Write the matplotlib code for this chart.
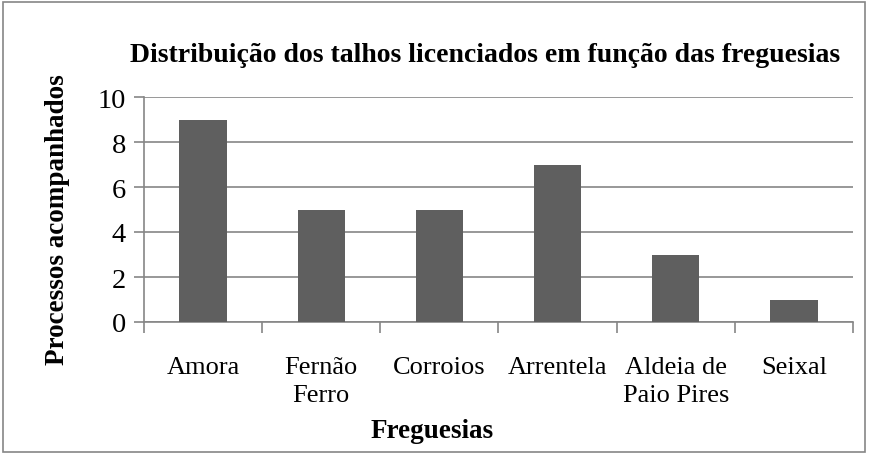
import matplotlib
matplotlib.use("Agg")
import matplotlib.pyplot as plt
from matplotlib.patches import Rectangle

categories = ["Amora", "Fernão\nFerro", "Corroios", "Arrentela", "Aldeia de\nPaio Pires", "Seixal"]
values = [9, 5, 5, 7, 3, 1]
yticks = [0, 2, 4, 6, 8, 10]

plt.rcParams['font.family'] = ['Liberation Serif', 'DejaVu Serif']

fig = plt.figure(figsize=(8.69, 4.56), dpi=100)
ax = fig.add_axes([144/869, 1 - 323/456, (853-144)/869, (323-98)/456])

grid_c = '#868686'
bar_c = '#5f5f5f'
x = list(range(len(categories)))
ax.bar(x, values, width=0.4, color=bar_c, zorder=3)
ax.set_xlim(-0.5, len(categories) - 0.5)
ax.set_ylim(0, 10)
ax.set_yticks(yticks)
ax.set_yticklabels([str(v) for v in yticks], fontsize=20.5)
ax.yaxis.grid(True, color=grid_c, linewidth=1.2, zorder=0)
ax.set_axisbelow(True)
for s in ['top', 'right']:
    ax.spines[s].set_visible(False)
for s in ['left', 'bottom']:
    ax.spines[s].set_color(grid_c)
    ax.spines[s].set_linewidth(1.2)
ax.tick_params(axis='y', length=7, width=1.2, color=grid_c, pad=6)
ax.set_xticks([i - 0.5 for i in range(len(categories) + 1)])
ax.set_xticklabels([])
ax.tick_params(axis='x', length=8, width=1.2, color=grid_c)
for i, c in enumerate(categories):
    ax.text(i, -1.5, c, ha='center', va='top', fontsize=19, linespacing=1.38)

fig.text(485.5/869, 1 - 55/456, "Distribuição dos talhos licenciados em função das freguesias",
         ha='center', va='center', fontsize=20, fontweight='bold')
fig.text(58/869, 1 - 220/456, "Processos acompanhados", ha='center', va='center',
         rotation=90, fontsize=19.5, fontweight='bold')
fig.text(432/869, 1 - 432/456, "Freguesias", ha='center', va='center',
         fontsize=19.5, fontweight='bold')

fig.patches.append(Rectangle((3/869, 3/456), 862/869, 450/456, transform=fig.transFigure,
                             fill=False, edgecolor='#868686', linewidth=1.2))
fig.savefig("out.png", dpi=100)
